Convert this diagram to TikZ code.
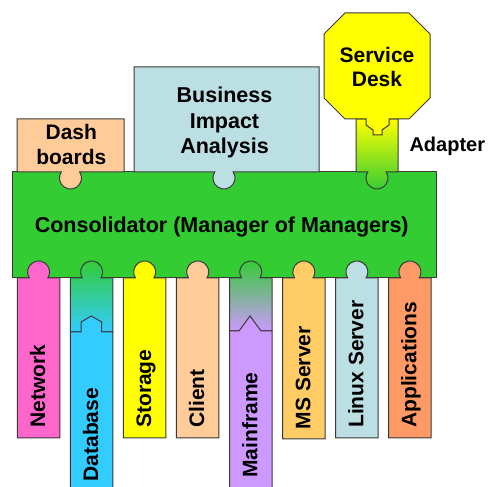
\documentclass[tikz,border=0pt]{standalone}
\usepackage{fontspec}
\setmainfont{Liberation Sans}
\definecolor{edge}{HTML}{3A3A3A}
\definecolor{mgrgreen}{HTML}{33CC33}
\definecolor{peach}{HTML}{FFCC99}
\definecolor{paleblue}{HTML}{BBDFE3}
\definecolor{sdyellow}{HTML}{FFFF00}
\definecolor{netpink}{HTML}{FF66CC}
\definecolor{dbcyan}{HTML}{33CCFF}
\definecolor{mfpurple}{HTML}{CC99FF}
\definecolor{msorange}{HTML}{FFCC66}
\definecolor{apporange}{HTML}{FF9966}
\begin{document}
\begin{tikzpicture}[x=1pt,y=1pt,
  part/.style={draw=edge, line width=1pt, line join=miter},
  lbl/.style={inner sep=0pt, anchor=base, font=\bfseries\fontsize{21}{25}\selectfont},
  biglbl/.style={lbl, font=\bfseries\fontsize{21.5}{25}\selectfont},
  vlbl/.style={lbl, rotate=90, anchor=base west},
]
\useasboundingbox (0,0) rectangle (491,487);

% central consolidator block
\path[part, fill=mgrgreen] (12,315) rectangle (436,209);
\node[biglbl] (mom) at (221.7,254.5) {Consolidator (Manager of Managers)};

% upper pieces, each with a knob reaching down into the consolidator
\path[part, fill=peach] (17,368) -- (124,368) -- (124,315) -- (79.72,315)
  arc[start angle=33.05, end angle=-213.05, radius=11] -- (17,315) -- cycle;
\node[lbl] (dash1) at (71.3,347.7) {Dash};
\node[lbl] (dash2) at (71.3,322) {boards};

\path[part, fill=paleblue] (134,420) -- (319,420) -- (319,315) -- (233.22,315)
  arc[start angle=33.05, end angle=-213.05, radius=11] -- (134,315) -- cycle;
\node[biglbl] (bia1) at (224.5,384.7) {Business};
\node[biglbl] (bia2) at (224.5,358.7) {Impact};
\node[biglbl] (bia3) at (224.5,333) {Analysis};

% service desk adapter
\path[part, top color=sdyellow, bottom color=mgrgreen] (356,368) -- (398,368) -- (398,315) -- (386.22,315)
  arc[start angle=33.05, end angle=-213.05, radius=11] -- (356,315) -- cycle;
\node[lbl, anchor=base west, font=\bfseries\fontsize{20}{24}\selectfont] (adapter) at (409.3,335.3) {Adapter};

% service desk octagon with its keyed tab
\path[part, fill=sdyellow] (345,474) -- (409,474) -- (430,453) -- (430,389) -- (409,368)
  -- (389,368) -- (389,362) -- (382,357) -- (382,352) -- (373,352) -- (373,357) -- (366,362) -- (366,368)
  -- (345,368) -- (324,389) -- (324,453) -- cycle;
\node[lbl] (sd1) at (377,424) {Service};
\node[lbl] (sd2) at (377,400) {Desk};

% lower pieces plugged into the consolidator
\foreach \i/\col/\txt/\bot/\ty in {0/netpink/Network/49/59, 2/sdyellow/Storage/49/59,
    3/peach/Client/49/59, 5/msorange/MS Server/48/57.7, 6/paleblue/Linux Server/49/59,
    7/apporange/Applications/49/59}{
  \pgfmathsetmacro\xa{17.3+53.05*\i}
  \path[part, fill=\col] (\xa,\bot) -- (\xa,209) -- ({\xa+21.25-9.22},209)
    arc[start angle=213.05, end angle=-33.05, radius=11] -- ({\xa+42.5},209) -- ({\xa+42.5},\bot) -- cycle;
  \node[vlbl] (low\i) at ({\xa+21.25+6.5},\ty) {\txt};
}

% database: gradient adapter above a keyed body
\path[part, top color=mgrgreen, bottom color=dbcyan] (70.35,155) -- (70.35,209) -- (82.38,209)
  arc[start angle=213.05, end angle=-33.05, radius=11] -- (112.85,209) -- (112.85,155) -- cycle;
\path[part, fill=dbcyan] (70.35,-2) -- (70.35,155) -- (81,155) -- (81,165) -- (91.3,171) -- (101.7,165)
  -- (101.7,155) -- (112.85,155) -- (112.85,-2) -- cycle;
\node[vlbl] (low1) at (98.1,5.3) {Database};

% mainframe: gradient adapter above a keyed body
\path[part, top color=mgrgreen, bottom color=mfpurple] (229.5,156) -- (229.5,209) -- (241.53,209)
  arc[start angle=213.05, end angle=-33.05, radius=11] -- (272,209) -- (272,156) -- cycle;
\path[part, fill=mfpurple] (229.5,-2) -- (229.5,156) -- (239,156) -- (250,171) -- (261,156)
  -- (272,156) -- (272,-2) -- cycle;
\node[vlbl] (low4) at (257.25,9.3) {Mainframe};
\end{tikzpicture}
\end{document}
